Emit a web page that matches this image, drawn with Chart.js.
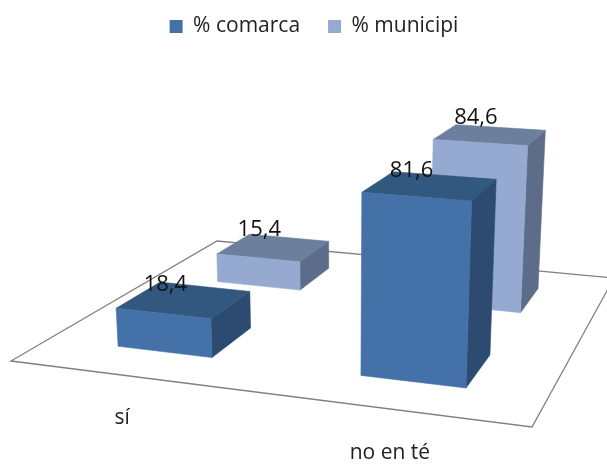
<!DOCTYPE html>
<html><head><meta charset="utf-8">
<style>html,body{margin:0;padding:0;background:#fff}canvas{display:block;filter:blur(0.5px)}</style>
<script src="https://cdn.jsdelivr.net/npm/chart.js@4"></script>
</head><body><canvas id="c" width="607" height="464"></canvas>
<script>
const categories = ["sí", "no en té"];
const seriesNames = ["% comarca", "% municipi"];
const comarca = [18.4, 81.6];
const municipi = [15.4, 84.6];

const faceColours = [
  {front:"#4472a8", top:"#33587f", side:"#2d4a70"},
  {front:"#95a9d1", top:"#6c7f9d", side:"#5d6d89"}
];
const labelShift = [[-19,-15],[-14.5,-17.5]];
const tickShift = [[-8,42],[0,44]];
const FONT = '"Open Sans", sans-serif';

// Camera: floor homography (unit square to screen) plus a height column.
const cam = {a:461.76,b:278.77,c:11,d:18.45,e:-39.18,f:361,g:-0.11136,h:0.33534,A:-17,B:-229,C:-0.05};
function project(u,v,z){
  const w = 1+cam.g*u+cam.h*v+cam.C*z;
  return [(cam.a*u+cam.b*v+cam.c+cam.A*z)/w,(cam.d*u+cam.e*v+cam.f+cam.B*z)/w];
}
function poly(ctx,pts,fill){
  ctx.beginPath();
  pts.forEach((p,i)=> i?ctx.lineTo(p[0],p[1]):ctx.moveTo(p[0],p[1]));
  ctx.closePath();
  ctx.fillStyle=fill;ctx.strokeStyle=fill;ctx.lineWidth=0.6;
  ctx.fill();ctx.stroke();
}
const perspective = {
  id:"perspective",
  beforeDatasetsDraw(chart){
    const ctx=chart.ctx;
    ctx.save();
    ctx.beginPath();
    [[0,0],[1,0],[1,1],[0,1]].forEach((p,i)=>{const q=project(p[0],p[1],0);i?ctx.lineTo(q[0],q[1]):ctx.moveTo(q[0],q[1]);});
    ctx.closePath();
    ctx.strokeStyle="#808080";ctx.lineWidth=1.3;ctx.stroke();
    ctx.restore();
  },
  beforeDatasetDraw(){ return false; },
  afterDatasetsDraw(chart){
    const ctx=chart.ctx, area=chart.chartArea, n=chart.data.datasets.length;
    const labels=[];
    ctx.save();
    for(let i=n-1;i>=0;i--){
      chart.getDatasetMeta(i).data.forEach((el,j)=>{
        const u0=(el.x-el.width/2-area.left)/area.width;
        const u1=(el.x+el.width/2-area.left)/area.width;
        const half=(u1-u0)/2, vc=(i+0.5)/n;
        const v0=vc-half, v1=vc+half;
        const z=(el.base-el.y)/area.height;
        const col=faceColours[i];
        poly(ctx,[project(u1,v0,0),project(u1,v1,0),project(u1,v1,z),project(u1,v0,z)],col.side);
        poly(ctx,[project(u0,v0,z),project(u1,v0,z),project(u1,v1,z),project(u0,v1,z)],col.top);
        poly(ctx,[project(u0,v0,0),project(u1,v0,0),project(u1,v0,z),project(u0,v0,z)],col.front);
        const t=project((u0+u1)/2,vc,z);
        labels.push([String(chart.data.datasets[i].data[j]).replace(".",","),t[0]+labelShift[i][0],t[1]+labelShift[i][1]]);
      });
    }
    ctx.fillStyle="#111";ctx.font="22px "+FONT;ctx.textAlign="center";ctx.textBaseline="middle";
    labels.forEach(l=>ctx.fillText(l[0],l[1],l[2]));
    const xs=chart.scales.x;
    ctx.fillStyle="#222";ctx.font="21px "+FONT;
    xs.getLabels().forEach((txt,j)=>{
      const u=(xs.getPixelForTick(j)-area.left)/area.width;
      const p=project(u,0,0);
      ctx.fillText(txt,p[0]+tickShift[j][0],p[1]+tickShift[j][1]);
    });
    ctx.restore();
  }
};
new Chart(document.getElementById("c"),{
  type:"bar",
  data:{labels:categories,datasets:[
    {label:seriesNames[0],data:comarca,backgroundColor:faceColours[0].front,borderWidth:0},
    {label:seriesNames[1],data:municipi,backgroundColor:faceColours[1].front,borderWidth:0}
  ]},
  options:{
    responsive:false,animation:false,
    categoryPercentage:1,barPercentage:0.4,
    layout:{padding:{left:21,top:-12}},
    scales:{
      x:{stacked:true,display:false},
      y:{display:false,min:0,max:100}
    },
    plugins:{
      tooltip:{enabled:false},
      legend:{position:"top",align:"center",labels:{boxWidth:13,boxHeight:13,padding:28,color:"#222",font:{family:FONT,size:21}}}
    }
  },
  plugins:[perspective]
});
</script></body></html>
